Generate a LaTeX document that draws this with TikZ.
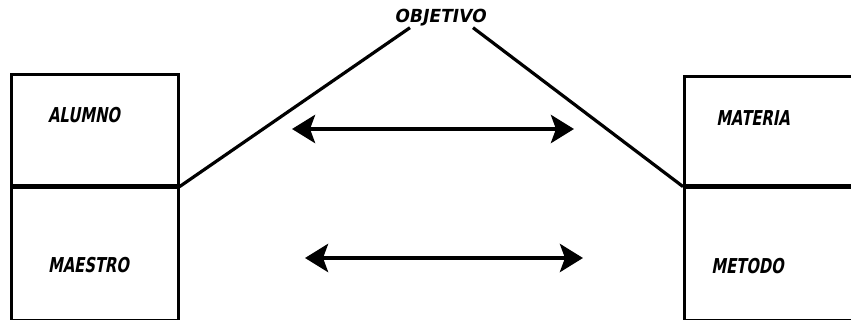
\documentclass[tikz,border=0pt]{standalone}
\usepackage{fontspec}
\newfontfamily\handfont[FakeStretch=0.72,FakeSlant=0.18]{DejaVu Sans}
\newfontfamily\handwide[FakeStretch=0.95,FakeSlant=0.18]{DejaVu Sans}
\usetikzlibrary{positioning,calc,arrows.meta}

\begin{document}
\begin{tikzpicture}[x=1pt,y=-1pt,>={Stealth[length=23pt,width=28pt,inset=5pt]}]
  \useasboundingbox (0,0) rectangle (851,320);
  \tikzset{
    caja/.style={draw,line width=2.6pt,rectangle,inner sep=0pt},
    rotulo/.style={font=\handfont\bfseries\fontsize{20.5}{24}\selectfont,inner sep=1pt},
    enlace/.style={line width=3.2pt},
    flecha/.style={<->,line width=4.5pt}
  }
  % left pair of boxes
  \node[caja,minimum width=167pt,minimum height=111pt,anchor=north west] (alumno) at (10,73) {};
  \node[caja,minimum width=167pt,minimum height=132pt,below=0pt of alumno] (maestro) {};
  % right pair of boxes
  \node[caja,minimum width=173pt,minimum height=109pt,anchor=north west] (materia) at (683,75) {};
  \node[caja,minimum width=173pt,minimum height=132pt,below=0pt of materia] (metodo) {};
  % box texts
  \node[rotulo] (talumno) at (84,115.5) {ALUMNO};
  \node[rotulo] (tmaestro) at (88.5,265.5) {MAESTRO};
  \node[rotulo] (tmateria) at (753,118.5) {MATERIA};
  \node[rotulo] (tmetodo) at (747.5,266) {METODO};
  % objective at the top
  \node[rotulo,font=\handwide\bfseries\fontsize{18}{21}\selectfont] (objetivo) at (440,18) {OBJETIVO};
  \draw[enlace] (alumno.south east) -- ($(objetivo.south)+(-30,0)$);
  \draw[enlace] (materia.south west) -- ($(objetivo.south)+(33,0)$);
  % double arrows
  \coordinate (a1) at (292,129);
  \coordinate (a2) at (574,129);
  \coordinate (b1) at (305,258);
  \coordinate (b2) at (583,258);
  \draw[flecha] (a1) -- (a2);
  \draw[flecha] (b1) -- (b2);
\end{tikzpicture}
\end{document}
